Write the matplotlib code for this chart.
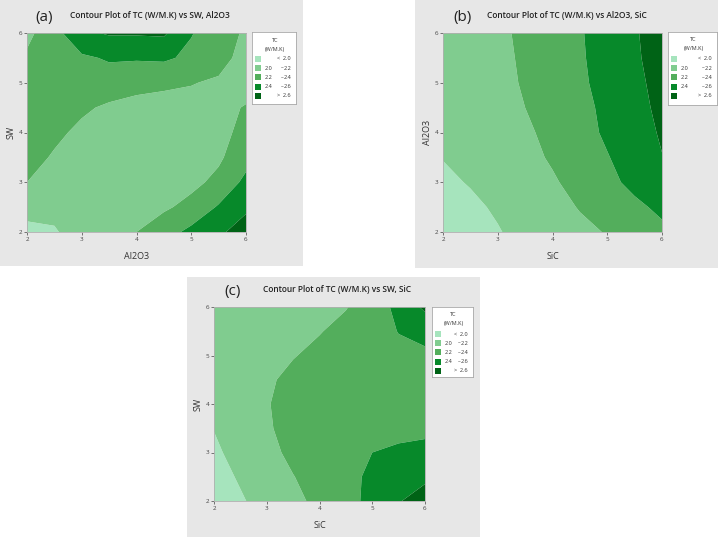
import numpy as np
import matplotlib
matplotlib.use("Agg")
import matplotlib.pyplot as plt
from matplotlib.patches import Rectangle

plt.rcParams['font.family'] = ['Open Sans', 'DejaVu Sans']

# grid the TC values were read on (both factors 2..6)
grid_x = [2, 2.5, 3, 3.5, 4, 4.5, 5, 5.5, 6]
grid_y = [2, 2.5, 3, 3.5, 4, 4.5, 5, 5.5, 6]

# (a) TC vs SW (y) and Al2O3 (x), rows from SW=2 to SW=6
tc_a = [
    [1.97, 1.99, 2.05, 2.12, 2.20, 2.32, 2.45, 2.57, 2.68],
    [2.04, 2.03, 2.05, 2.08, 2.11, 2.17, 2.26, 2.42, 2.57],
    [2.20, 2.14, 2.09, 2.07, 2.07, 2.10, 2.15, 2.25, 2.45],
    [2.27, 2.18, 2.12, 2.08, 2.07, 2.08, 2.12, 2.17, 2.33],
    [2.31, 2.24, 2.16, 2.11, 2.09, 2.09, 2.11, 2.16, 2.24],
    [2.33, 2.29, 2.23, 2.17, 2.15, 2.12, 2.13, 2.18, 2.205],
    [2.32, 2.33, 2.34, 2.31, 2.25, 2.24, 2.21, 2.17, 2.17],
    [2.23, 2.30, 2.37, 2.42, 2.42, 2.43, 2.36, 2.28, 2.12],
    [2.15, 2.33, 2.56, 2.62, 2.62, 2.63, 2.41, 2.30, 2.17],
]

# (b) TC vs Al2O3 (y) and SiC (x)
tc_b = [
    [1.88, 1.93, 1.99, 2.05, 2.10, 2.16, 2.21, 2.28, 2.36],
    [1.93, 1.97, 2.02, 2.08, 2.14, 2.21, 2.29, 2.36, 2.44],
    [1.97, 2.01, 2.06, 2.12, 2.18, 2.26, 2.35, 2.45, 2.55],
    [2.005, 2.04, 2.09, 2.15, 2.22, 2.30, 2.39, 2.49, 2.595],
    [2.03, 2.06, 2.11, 2.17, 2.25, 2.33, 2.43, 2.52, 2.62],
    [2.045, 2.075, 2.13, 2.20, 2.27, 2.35, 2.44, 2.53, 2.65],
    [2.055, 2.085, 2.14, 2.22, 2.29, 2.37, 2.46, 2.55, 2.67],
    [2.06, 2.09, 2.15, 2.23, 2.31, 2.38, 2.47, 2.57, 2.69],
    [2.06, 2.10, 2.16, 2.24, 2.31, 2.385, 2.48, 2.58, 2.70],
]

# (c) TC vs SW (y) and SiC (x)
tc_c = [
    [1.88, 1.98, 2.07, 2.15, 2.25, 2.34, 2.45, 2.59, 2.67],
    [1.93, 2.02, 2.11, 2.195, 2.27, 2.34, 2.44, 2.52, 2.57],
    [1.97, 2.06, 2.15, 2.24, 2.30, 2.35, 2.40, 2.43, 2.45],
    [2.005, 2.09, 2.18, 2.26, 2.31, 2.33, 2.34, 2.35, 2.36],
    [2.03, 2.11, 2.19, 2.26, 2.30, 2.32, 2.33, 2.34, 2.35],
    [2.05, 2.12, 2.17, 2.25, 2.30, 2.32, 2.33, 2.35, 2.37],
    [2.06, 2.12, 2.16, 2.19, 2.25, 2.30, 2.33, 2.36, 2.37],
    [2.07, 2.11, 2.13, 2.16, 2.19, 2.26, 2.33, 2.405, 2.45],
    [2.08, 2.10, 2.12, 2.14, 2.17, 2.19, 2.30, 2.45, 2.64],
]

levels = [0, 2.0, 2.2, 2.4, 2.6, 5]
fill_colors = ['#a6e4bd', '#80cc8f', '#53ae5c', '#07892a', '#006316']
legend_left = ['', '2.0', '2.2', '2.4', '']
legend_right = ['<  2.0', '2.2', '2.4', '2.6', '>  2.6']
ticks = [2, 3, 4, 5, 6]

W, H = 718, 537
fig = plt.figure(figsize=(W / 100, H / 100), dpi=100)
fig.patch.set_facecolor('white')


def px_rect(x0, y0, x1, y1):
    return [x0 / W, 1 - y1 / H, (x1 - x0) / W, (y1 - y0) / H]


def panel(bg, box, leg, title_xy, tag_x, tag, title, xlabel, ylabel, z):
    r = px_rect(*bg)
    fig.add_artist(Rectangle((r[0], r[1]), r[2], r[3], transform=fig.transFigure,
                             facecolor='#e7e7e7', edgecolor='none', zorder=0))
    ax = fig.add_axes(px_rect(*box))
    ax.contourf(grid_x, grid_y, np.array(z), levels=levels, colors=fill_colors,
                antialiased=True)
    ax.set_xlim(2, 6)
    ax.set_ylim(2, 6)
    ax.set_xticks(ticks)
    ax.set_yticks(ticks)
    ax.tick_params(labelsize=4.5, length=2, width=0.5, pad=1.5, colors='#444444')
    for s in ax.spines.values():
        s.set_linewidth(0.6)
        s.set_color('#b0b0b0')
    ax.set_xlabel(xlabel, fontsize=6.5, color='#333333', labelpad=7)
    ax.set_ylabel(ylabel, fontsize=6.5, color='#333333', labelpad=2)

    tx, ty = title_xy
    fig.text(tx / W, 1 - ty / H, title, fontsize=6.0, fontweight='semibold',
             color='#222222', ha='center', va='center')
    fig.text(tag_x / W, 1 - (ty + 1) / H, tag, fontsize=11, color='#222222',
             ha='center', va='center')

    # legend box
    lx0, ly0, lx1, ly1 = leg
    lax = fig.add_axes(px_rect(*leg))
    lax.set_xlim(0, lx1 - lx0)
    lax.set_ylim(ly1 - ly0, 0)
    lax.set_xticks([])
    lax.set_yticks([])
    lax.set_facecolor('white')
    for s in lax.spines.values():
        s.set_linewidth(0.6)
        s.set_color('#a8a8a8')
    wl = lx1 - lx0
    lax.text(wl / 2 + 1, 8, 'TC', fontsize=4, ha='center', va='center', color='#333333')
    lax.text(wl / 2 + 1, 17, '(W/M.K)', fontsize=4, ha='center', va='center', color='#333333')
    for i in range(5):
        yc = 27 + i * 9.2
        lax.add_patch(Rectangle((3, yc - 3), 6, 6, facecolor=fill_colors[i],
                                edgecolor='none'))
        lax.text(wl - 5, yc, legend_right[i], fontsize=4, ha='right', va='center',
                 color='#333333')
        if legend_left[i]:
            lax.text(13, yc, legend_left[i], fontsize=4, ha='left', va='center',
                     color='#333333')
            lax.text(wl - 14, yc, '–', fontsize=4, ha='center', va='center',
                     color='#333333')
    return ax


panel((0, 0, 303, 266), (27, 33, 246, 232), (252, 32, 296, 104), (150, 16), 44,
      '(a)', 'Contour Plot of TC (W/M.K) vs SW, Al2O3', 'Al2O3', 'SW', tc_a)
panel((415, 0, 718, 268), (443, 33, 662, 232), (668, 32, 717, 105), (567, 16), 462,
      '(b)', 'Contour Plot of TC (W/M.K) vs Al2O3, SiC', 'SiC', 'Al2O3', tc_b)
panel((187, 277, 480, 537), (214, 307, 425, 501), (432, 307, 473, 377), (337, 290), 233,
      '(c)', 'Contour Plot of TC (W/M.K) vs SW, SiC', 'SiC', 'SW', tc_c)

fig.savefig('out.png', dpi=100, facecolor='white')
